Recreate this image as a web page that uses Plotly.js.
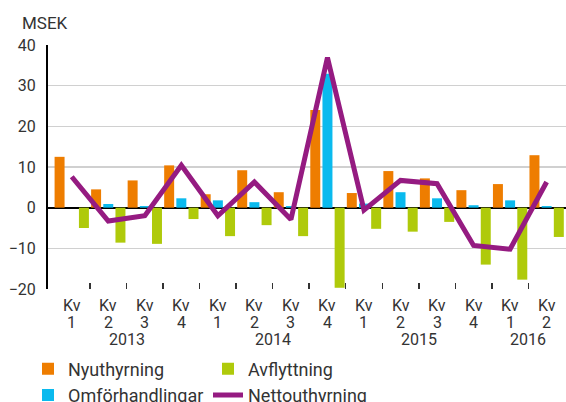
<!DOCTYPE html>
<html>
<head>
<meta charset="utf-8">
<script src="https://cdn.plot.ly/plotly-3.0.1.min.js"></script>
<style>html,body{margin:0;padding:0;background:#fff;}#chart{width:566px;height:402px;}</style>
</head>
<body>
<div id="chart"></div>
<script>
// ---- data ----
var quarterLabels = ["1","2","3","4","1","2","3","4","1","2","3","4","1","2"];
var quarterPrefix = "Kv";
var years = ["2013","2014","2015","2016"];
var yearPositions = [1.5, 5.5, 9.5, 12.5];
var nyuthyrning     = [12.5, 4.5, 6.7, 10.4, 3.3, 9.2, 3.8, 24.0, 3.6, 9.0, 7.2, 4.3, 5.8, 12.9];
var omforhandlingar = [0.0, 0.9, 0.4, 2.3, 1.8, 1.35, 0.4, 32.9, 1.0, 3.8, 2.3, 0.6, 1.8, 0.4];
var avflyttning     = [-5.0, -8.6, -8.9, -2.8, -7.0, -4.3, -7.0, -19.7, -5.2, -5.9, -3.5, -14.0, -17.7, -7.2];
var nettouthyrning  = [7.6, -3.3, -2.0, 10.4, -2.0, 6.3, -2.9, 36.9, -0.6, 6.7, 5.9, -9.3, -10.2, 6.3];
var yTicks = [-20, -10, 0, 10, 20, 30, 40];

// ---- build ----
var idx = quarterLabels.map(function(_, i){ return i; });
var bounds = [];
for (var i = 0; i < quarterLabels.length - 1; i++) bounds.push(i + 0.5);

var FONT = "Roboto, 'Open Sans', sans-serif";
var TXT = "#333333";

var traces = [
  {type:"bar", name:"Nyuthyrning", x:idx, y:nyuthyrning, marker:{color:"#EE7D00"}, legend:"legend", hoverinfo:"skip"},
  {type:"bar", name:"Omförhandlingar", x:idx, y:omforhandlingar, marker:{color:"#0ABAEE"}, legend:"legend", hoverinfo:"skip"},
  {type:"bar", name:"Avflyttning", x:idx, y:avflyttning, marker:{color:"#AFCA0B"}, legend:"legend2", hoverinfo:"skip"},
  {type:"scatter", mode:"lines", name:"Nettouthyrning", x:idx, y:nettouthyrning,
   line:{color:"#951B81", width:5}, legend:"legend2", hoverinfo:"skip"}
];

var annotations = [];
function py(p){ return (289 - p) / 244; }
idx.forEach(function(i){
  annotations.push({xref:"x", yref:"paper", x:i, y:py(305), text:quarterPrefix, showarrow:false,
    xanchor:"center", yanchor:"middle", font:{family:FONT, size:16, color:TXT}});
  annotations.push({xref:"x", yref:"paper", x:i, y:py(322), text:quarterLabels[i], showarrow:false,
    xanchor:"center", yanchor:"middle", font:{family:FONT, size:16, color:TXT}});
});
years.forEach(function(y, k){
  annotations.push({xref:"x", yref:"paper", x:yearPositions[k], y:py(339.5), text:y, showarrow:false,
    xanchor:"center", yanchor:"middle", font:{family:FONT, size:16, color:TXT}});
});
annotations.push({xref:"paper", yref:"paper", x:(20-48)/518, y:1+(45-23)/244, text:"MSEK", showarrow:false,
  xanchor:"left", yanchor:"middle", font:{family:FONT, size:17, color:TXT}});

var legendBase = {orientation:"v", xanchor:"left", y:py(350.5), yanchor:"top", traceorder:"normal",
  font:{family:FONT, size:18, color:TXT}, bgcolor:"rgba(0,0,0,0)", tracegroupgap:0};
var legend1 = Object.assign({}, legendBase, {x:(28-48)/518});
var legend2 = Object.assign({}, legendBase, {x:(208-48)/518});

var layout = {
  width:566, height:402,
  margin:{l:48, r:0, t:45, b:113, pad:0, autoexpand:false},
  paper_bgcolor:"#ffffff", plot_bgcolor:"#ffffff",
  font:{family:FONT, color:TXT},
  barmode:"group", bargap:0, bargroupgap:0.18,
  showlegend:true,
  legend:legend1,
  legend2:legend2,
  xaxis:{range:[-0.65, 13.53], tickmode:"array", tickvals:bounds, showticklabels:false,
    ticks:"inside", ticklen:6, tickwidth:1.5, tickcolor:"#333333",
    showgrid:false, zeroline:false, showline:false, fixedrange:true},
  yaxis:{range:[-20, 40], tickmode:"array", tickvals:yTicks, showgrid:true, gridcolor:"#d0d0d0", gridwidth:1.5,
    zeroline:true, zerolinecolor:"#000000", zerolinewidth:2,
    showline:true, linecolor:"#000000", linewidth:2,
    ticks:"", ticklabelstandoff:7,
    tickfont:{family:FONT, size:16, color:TXT}, fixedrange:true},
  annotations:annotations
};

Plotly.newPlot("chart", traces, layout, {staticPlot:true, displayModeBar:false});
</script>
</body>
</html>
